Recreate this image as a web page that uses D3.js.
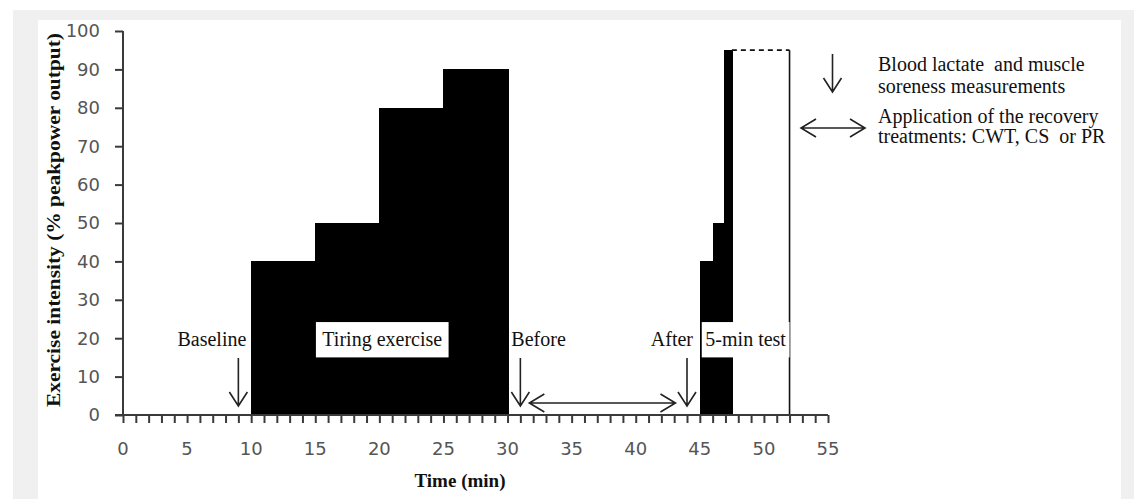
<!DOCTYPE html>
<html>
<head>
<meta charset="utf-8">
<script src="https://cdn.jsdelivr.net/npm/d3@7"></script>
<style>
  html, body { margin: 0; padding: 0; background: #ffffff; }
  svg { display: block; }
  text { white-space: pre; }
</style>
</head>
<body>
<svg id="chart" width="1134" height="499"></svg>
<script>
// ---------- data ----------
const xTickValues = [0, 5, 10, 15, 20, 25, 30, 35, 40, 45, 50, 55];
const yTickValues = [0, 10, 20, 30, 40, 50, 60, 70, 80, 90, 100];

// exercise stages (minutes, % peak power output)
const stageStart     = [10, 15, 20, 25, 45, 46, 46.9];
const stageEnd       = [15, 20, 25, 30, 46, 46.9, 47.5];
const stageIntensity = [40, 50, 80, 90, 40, 50, 95];

// 5-min test end and its peak level (dashed)
const testEnd = 52;
const testPeak = 95;

// measurement arrows
const measureTimes  = [9, 31, 44];
const measureLabels = ["Baseline", "Before", "After"];

// recovery treatment interval
const recoveryStart = 31.7;
const recoveryEnd = 43.1;

// phase labels
const phaseLabels = ["Tiring exercise", "5-min test"];
const phaseFrom   = [15.05, 45.15];
const phaseTo     = [25.4, 52];

// legend
const legendLines1 = ["Blood lactate  and muscle", "soreness measurements"];
const legendLines2 = ["Application of the recovery", "treatments: CWT, CS  or PR"];

// ---------- drawing ----------
const svg = d3.select("#chart");
const serif = "'Liberation Serif', 'Times New Roman', serif";
const sans = "'DejaVu Sans', Verdana, sans-serif";

// frame
svg.append("rect").attr("x", 13).attr("y", 10).attr("width", 1121).attr("height", 489).attr("fill", "#f0f0f0");
svg.append("rect").attr("x", 38).attr("y", 20).attr("width", 1083).attr("height", 479).attr("fill", "#ffffff");

const x = d3.scaleLinear().domain([0, 55]).range([123, 828]);
const y = d3.scaleLinear().domain([0, 100]).range([415, 31]);

// stages
svg.append("g").attr("shape-rendering", "crispEdges")
  .selectAll("rect").data(stageStart).join("rect")
  .attr("x", (d, i) => Math.round(x(d)))
  .attr("width", (d, i) => Math.round(x(stageEnd[i])) - Math.round(x(d)) + 1)
  .attr("y", (d, i) => Math.round(y(stageIntensity[i])))
  .attr("height", (d, i) => Math.round(y(0)) - Math.round(y(stageIntensity[i])))
  .attr("fill", "#000");

// test end line and dashed peak
svg.append("line")
  .attr("x1", x(testEnd)).attr("x2", x(testEnd))
  .attr("y1", y(testPeak)).attr("y2", y(0))
  .attr("stroke", "#111").attr("stroke-width", 1.6);
svg.append("line")
  .attr("x1", x(d3.max(stageEnd))).attr("x2", x(testEnd))
  .attr("y1", y(testPeak)).attr("y2", y(testPeak))
  .attr("stroke", "#111").attr("stroke-width", 1.8)
  .attr("stroke-dasharray", "5,4");

// phase label boxes
phaseLabels.forEach((lab, i) => {
  const x0 = x(phaseFrom[i]), x1 = x(phaseTo[i]);
  svg.append("rect")
    .attr("x", x0).attr("width", x1 - x0)
    .attr("y", y(24.2)).attr("height", y(15) - y(24.2))
    .attr("fill", "#fff");
  svg.append("text")
    .attr("x", (x0 + x1) / 2).attr("y", 346)
    .attr("text-anchor", "middle")
    .attr("font-family", serif).attr("font-size", 20)
    .attr("fill", "#111")
    .text(lab);
});

// axes
const axisColor = "#3a3a3a";
const xAxis = d3.axisBottom(x).tickValues(d3.range(0, 56, 1)).tickSize(8).tickFormat("");
const gx = svg.append("g").attr("transform", `translate(0,${y(0)})`).call(xAxis);
gx.select(".domain").remove();
gx.selectAll("line").attr("stroke", axisColor).attr("stroke-width", 2);
svg.append("line").attr("x1", 115).attr("x2", x(55)).attr("y1", y(0)).attr("y2", y(0))
  .attr("stroke", axisColor).attr("stroke-width", 2);

svg.append("g").selectAll("text").data(xTickValues).join("text")
  .attr("x", d => x(d)).attr("y", 455)
  .attr("text-anchor", "middle")
  .attr("font-family", sans).attr("font-size", 18)
  .attr("fill", "#555")
  .text(d => d);

const yAxis = d3.axisLeft(y).tickValues(yTickValues).tickSize(8).tickFormat("");
const gy = svg.append("g").attr("transform", `translate(${x(0)},0)`).call(yAxis);
gy.select(".domain").remove();
gy.selectAll("line").attr("stroke", axisColor).attr("stroke-width", 2);
svg.append("line").attr("x1", x(0)).attr("x2", x(0)).attr("y1", y(100)).attr("y2", y(0))
  .attr("stroke", axisColor).attr("stroke-width", 2);

svg.append("g").selectAll("text").data(yTickValues).join("text")
  .attr("x", 100).attr("y", d => y(d))
  .attr("dy", "0.36em")
  .attr("text-anchor", "end")
  .attr("font-family", sans).attr("font-size", 18)
  .attr("fill", "#555")
  .text(d => d);

// axis titles
svg.append("text")
  .attr("transform", `translate(60,${(33 + 407) / 2}) rotate(-90)`)
  .attr("text-anchor", "middle")
  .attr("font-family", serif).attr("font-size", 19).attr("font-weight", "bold")
  .attr("textLength", 374).attr("lengthAdjust", "spacingAndGlyphs")
  .attr("fill", "#111")
  .text("Exercise intensity (% peakpower output)");
svg.append("text")
  .attr("x", 460).attr("y", 487)
  .attr("text-anchor", "middle")
  .attr("font-family", serif).attr("font-size", 19).attr("font-weight", "bold")
  .attr("fill", "#111")
  .text("Time (min)");

// arrows helpers
const arrowColor = "#222";
function downArrow(cx, y0, y1) {
  svg.append("path")
    .attr("d", `M${cx},${y0}L${cx},${y1}M${cx - 9},${y1 - 14}L${cx},${y1}L${cx + 9},${y1 - 14}`)
    .attr("fill", "none").attr("stroke", arrowColor).attr("stroke-width", 1.6);
}
function doubleArrow(x0, x1, cy) {
  svg.append("path")
    .attr("d", `M${x0},${cy}L${x1},${cy}M${x0 + 15},${cy - 9}L${x0},${cy}L${x0 + 15},${cy + 9}M${x1 - 15},${cy - 9}L${x1},${cy}L${x1 - 15},${cy + 9}`)
    .attr("fill", "none").attr("stroke", arrowColor).attr("stroke-width", 1.6);
}

// measurement arrows and labels
const labelLayout = [
  { dx: 8, anchor: "end" },
  { dx: -9, anchor: "start" },
  { dx: 6, anchor: "end" }
];
measureTimes.forEach((t, i) => {
  const cx = x(t);
  downArrow(cx, 358, 406);
  svg.append("text")
    .attr("x", cx + labelLayout[i].dx).attr("y", 346)
    .attr("text-anchor", labelLayout[i].anchor)
    .attr("font-family", serif).attr("font-size", 20)
    .attr("fill", "#111")
    .text(measureLabels[i]);
});

// recovery interval
doubleArrow(x(recoveryStart), x(recoveryEnd), 403);

// legend
downArrow(832.5, 54, 92);
doubleArrow(801, 865, 128);
const legendBaselines1 = [71, 93];
const legendBaselines2 = [123, 143];
legendLines1.forEach((t, i) => {
  svg.append("text").attr("x", 878).attr("y", legendBaselines1[i])
    .attr("font-family", serif).attr("font-size", 20).attr("fill", "#111").text(t);
});
legendLines2.forEach((t, i) => {
  svg.append("text").attr("x", 878).attr("y", legendBaselines2[i])
    .attr("font-family", serif).attr("font-size", 20).attr("fill", "#111").text(t);
});
</script>
</body>
</html>
